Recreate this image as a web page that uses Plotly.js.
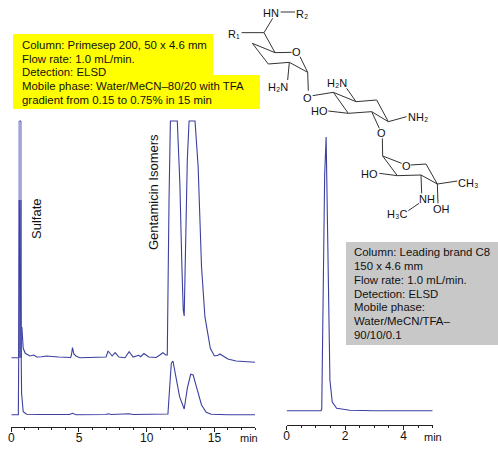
<!DOCTYPE html>
<html><head><meta charset="utf-8">
<script src="https://cdn.plot.ly/plotly-3.0.1.min.js"></script>
<style>html,body{margin:0;padding:0;background:#fff}#c{width:498px;height:456px}</style>
</head><body><div id="c"></div>
<script>
var primesepUpperTime = [0,0.52,null,0.6,0.72,null,0.78,0.88,1.03,1.38,1.67,1.87,2.24,2.6,3.5,4.38,4.44,4.52,4.62,4.77,5.06,6.0,7.0,7.15,7.45,7.67,7.95,8.4,8.7,9.0,9.4,9.55,9.8,10.15,10.7,10.97,11.2,11.4,11.52,11.65,11.75,12.26,12.45,12.6,12.7,12.77,12.87,13.0,13.13,13.57,13.8,14.05,14.3,14.53,14.7,15.0,15.27,15.4,15.75,16.0,16.6,17.35,18.0];
var primesepUpperSignal = [69.3,69.3,null,306,306,null,100,78.7,73.7,71,72,70,70.3,71,70,69.5,72,79.3,73,71,69.3,69.5,70,76,71,74.3,70,69.3,75.3,70,71.7,70.3,73.5,70,69.5,72,74.3,72,72,227,306,306,243.7,160.3,117,111,193.7,267,306,306,260.3,160.3,110.3,90.3,78.7,71,71.7,73,70.3,68,66,65.3,64.7];
var primesepLowerTime = [0,0.52,0.56,0.62,0.69,0.76,0.88,1.13,2.0,4.3,4.52,4.8,7.0,7.15,7.4,8.7,9.0,11.57,11.7,11.82,11.94,12.14,12.43,12.77,12.88,13.0,13.25,13.43,13.67,14.05,14.4,14.77,16.0,18.0];
var primesepLowerSignal = [12.3,12.3,100,227,127,33.7,15.3,12.7,12.5,12.5,13.7,12.3,12.5,13.3,12.5,13.3,12.5,13,40.3,63.7,66,52,30.3,18,27,38.7,52.7,52,40.3,22,14.7,12.7,12.3,12.3];
var upperFrontTime = [0.52,0.52,0.78,0.78];
var upperFrontSignal = [69.3,306,306,69.3];
var lowerFrontTime = [0.52,0.52,0.78,0.78];
var lowerFrontSignal = [69.3,227,227,69.3];
var leadingTime = [0,1.18,1.2,1.23,1.3,1.35,1.4,1.48,1.56,1.71,1.88,2.16,3.0,5.0];
var leadingSignal = [14.3,14.3,16,100,250,288,200,45,23,16.7,16,14.7,14.3,14.3];
var leftTickLabels = ['0','5','10','15'];
var rightTickLabels = ['0','2','4'];
var yellowLines = ['Column: Primesep 200, 50 x 4.6 mm','Flow rate: 1.0 mL/min.','Detection: ELSD','Mobile phase: Water/MeCN\u201380/20 with TFA','gradient from 0.15 to 0.75% in 15 min'];
var grayLines = ['Column: Leading brand C8','150 x 4.6 mm','Flow rate: 1.0 mL/min.','Detection: ELSD','Mobile phase:','Water/MeCN/TFA\u2013','90/10/0.1'];

var W=498,H=456,FONT='"Liberation Sans",Arial,sans-serif',LINE='#3b3f9e',INK='#111';
function px(x){return x/W} function py(y){return 1-y/H}
function rect(x0,y0,x1,y1,c){return {type:'rect',xref:'paper',yref:'paper',x0:px(x0),x1:px(x1),y0:py(y0),y1:py(y1),fillcolor:c,line:{width:0},layer:'below'}}
function label(x,y,t,o){return Object.assign({xref:'paper',yref:'paper',x:px(x),y:py(y),text:t,showarrow:false,xanchor:'left',yanchor:'middle',borderpad:0,font:{family:FONT,size:11.4,color:INK}},o||{})}

var bonds=[[65,98,132,98],[132,98,158,55],[132,98,165,158],[165,158,97,130],[97,130,145,192],[145,192,208,187],[165,158,215,157],[240,170,263,217],[263,217,208,187],[208,187,203,240],[263,217,265,272],[278,287,340,277],[340,277,385,340],[385,340,455,335],[455,335,505,365],[505,365,470,300],[470,300,408,305],[408,305,340,277],[408,305,380,265],[385,340,325,333],[505,365,560,350],[455,335,478,385],[487,415,488,468],[488,468,532,527],[532,527,603,525],[603,525,652,552],[652,552,618,492],[618,492,572,495],[545,490,488,468],[532,527,478,520],[603,525,605,580],[652,552,712,543],[652,552,654,610],[597,610,565,632]];
var shapes=[rect(13,34,213,75,'#ffff00'),rect(13,75,260,109,'#ffff00'),rect(346,242,498,345,'#c8c8c8')];
bonds.forEach(function(b){shapes.push({type:'line',xref:'paper',yref:'paper',x0:px(220+b[0]/3),y0:py(b[1]/3),x1:px(220+b[2]/3),y1:py(b[3]/3),line:{color:'#333',width:1}})});
shapes.push({type:'line',xref:'paper',yref:'paper',x0:px(220+182/3),y0:py(12),x1:px(220+225/3),y1:py(12),line:{color:'#777',width:1.5}});

var ann=[];
var yy=[45,59,72,86,100]; yellowLines.forEach(function(t,i){ann.push(label(20.5,yy[i],t))});
var gy=[252,266,280,293.5,307,321,335]; grayLines.forEach(function(t,i){ann.push(label(353,gy[i],t))});
ann.push(label(36,219,'Sulfate',{textangle:-90,xanchor:'center',font:{family:FONT,size:13,color:INK}}));
ann.push(label(153,192,'Gentamicin Isomers',{textangle:-90,xanchor:'center',font:{family:FONT,size:13,color:INK}}));
ann.push(label(249,438,'min',{xanchor:'center',font:{family:FONT,size:11,color:INK}}));
ann.push(label(433,437,'min',{xanchor:'center',font:{family:FONT,size:11,color:INK}}));
var atoms=[[153,40,'HN'],[246,42,'R\u2082'],[43,103,'R\u2081'],[230,157,'O'],[175,262,'H\u2082N'],[262,293,'O'],[350,250,'H\u2082N'],[298,333,'HO'],[594,350,'NH\u2082'],[484,400,'O'],[558,497,'O'],[448,522,'HO'],[620,598,'NH'],[744,548,'CH\u2083'],[665,627,'OH'],[530,643,'H\u2083C']];
atoms.forEach(function(a){ann.push(label(220+a[0]/3,a[1]/3,a[2],{xanchor:'center',font:{family:FONT,size:11,color:INK}}))});

function xax(d,range,minor,vals,txt,anchor){return {domain:d,range:range,anchor:anchor,showgrid:false,zeroline:false,showline:true,linecolor:'#222',linewidth:1,ticks:'outside',ticklen:4,tickwidth:1,tickcolor:'#222',tickmode:'array',tickvals:vals,ticktext:txt,ticklabelstandoff:-4,tickfont:{family:FONT,size:12,color:INK},minor:{dtick:minor,ticks:'outside',ticklen:2,tickwidth:1,tickcolor:'#222',showgrid:false}}}
function yax(d,range){return {domain:d,range:range,visible:false,fixedrange:true}}
var line={color:LINE,width:1.1};
var traces=[
 {x:upperFrontTime,y:upperFrontSignal,xaxis:'x',yaxis:'y',mode:'none',fill:'toself',fillcolor:'#a3a3da',hoverinfo:'skip'},
 {x:lowerFrontTime,y:lowerFrontSignal,xaxis:'x',yaxis:'y',mode:'none',fill:'toself',fillcolor:'#6c6cc0',hoverinfo:'skip'},
 {x:primesepUpperTime,y:primesepUpperSignal,xaxis:'x',yaxis:'y',mode:'lines',line:line,connectgaps:false,hoverinfo:'skip'},
 {x:primesepLowerTime,y:primesepLowerSignal,xaxis:'x',yaxis:'y',mode:'lines',line:line,hoverinfo:'skip'},
 {x:leadingTime,y:leadingSignal,xaxis:'x2',yaxis:'y2',mode:'lines',line:line,hoverinfo:'skip'}
];
var layout={width:W,height:H,margin:{l:0,r:0,t:0,b:0},paper_bgcolor:'#fff',plot_bgcolor:'rgba(0,0,0,0)',showlegend:false,
 xaxis:xax([11.3/W,255/W],[0,18],1,[0,5,10,15],leftTickLabels,'y'),
 yaxis:yax([(H-427)/H,(H-120)/H],[0,307]),
 xaxis2:xax([286.7/W,432.7/W],[0,5],0.5,[0,2,4],rightTickLabels,'y2'),
 yaxis2:yax([(H-425)/H,(H-130)/H],[0,295]),
 shapes:shapes,annotations:ann};
Plotly.newPlot('c',traces,layout,{displayModeBar:false,staticPlot:true});
</script></body></html>
